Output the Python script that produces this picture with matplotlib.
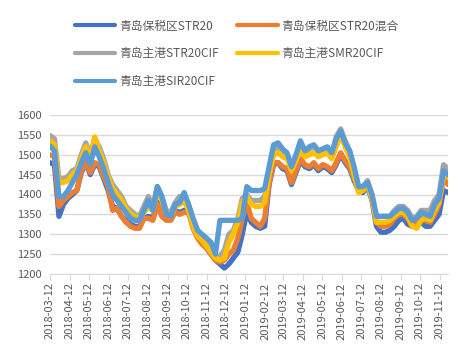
import pandas as pd
import matplotlib.pyplot as plt
import matplotlib.dates as mdates

plt.rcParams['font.family'] = ['Noto Sans CJK SC', 'DejaVu Sans']

# weekly observations starting 2018-03-12
dates = pd.date_range('2018-03-12', periods=90, freq='7D')

str20 = [1480, 1475, 1345, 1375, 1390, 1400, 1410, 1455, 1480, 1450,
         1475, 1470, 1440, 1410, 1370, 1365, 1345, 1335, 1325, 1320,
         1320, 1340, 1345, 1340, 1380, 1350, 1340, 1340, 1360, 1355,
         1360, 1355, 1320, 1295, 1280, 1265, 1250, 1235, 1225, 1215,
         1225, 1240, 1255, 1300, 1355, 1330, 1320, 1315, 1320, 1425,
         1475, 1480, 1465, 1460, 1425, 1455, 1485, 1470, 1465, 1475,
         1460, 1470, 1465, 1455, 1475, 1500, 1480, 1465, 1435, 1410,
         1405, 1420, 1385, 1320, 1305, 1305, 1310, 1320, 1335, 1340,
         1325, 1320, 1330, 1330, 1320, 1320, 1335, 1350, 1410, 1405]

str20_mix = [1500, 1495, 1370, 1385, 1395, 1405, 1410, 1460, 1480, 1455,
             1480, 1475, 1445, 1420, 1360, 1365, 1345, 1330, 1320, 1315,
             1315, 1340, 1340, 1335, 1375, 1345, 1335, 1335, 1355, 1350,
             1355, 1355, 1315, 1290, 1275, 1265, 1250, 1235, 1230, 1235,
             1250, 1260, 1290, 1340, 1380, 1340, 1330, 1320, 1340, 1430,
             1480, 1480, 1470, 1465, 1430, 1460, 1490, 1475, 1470, 1480,
             1465, 1475, 1470, 1460, 1480, 1505, 1485, 1470, 1440, 1415,
             1410, 1425, 1390, 1330, 1320, 1320, 1325, 1340, 1350, 1350,
             1340, 1320, 1325, 1340, 1335, 1330, 1350, 1375, 1440, 1425]

str20_cif = [1548, 1540, 1440, 1440, 1445, 1460, 1465, 1500, 1530, 1500,
             1540, 1520, 1490, 1450, 1425, 1410, 1395, 1370, 1360, 1350,
             1345, 1370, 1395, 1370, 1420, 1395, 1360, 1355, 1380, 1395,
             1395, 1370, 1335, 1310, 1295, 1280, 1270, 1245, 1245, 1260,
             1300, 1310, 1340, 1390, 1400, 1385, 1385, 1385, 1395, 1460,
             1510, 1520, 1510, 1500, 1465, 1495, 1530, 1505, 1515, 1520,
             1505, 1510, 1515, 1500, 1545, 1565, 1535, 1510, 1465, 1420,
             1420, 1435, 1400, 1345, 1345, 1345, 1345, 1360, 1370, 1370,
             1360, 1340, 1345, 1360, 1360, 1360, 1385, 1400, 1475, 1465]

smr20_cif = [1535, 1525, 1430, 1430, 1435, 1450, 1460, 1490, 1520, 1490,
             1545, 1510, 1480, 1445, 1415, 1400, 1385, 1365, 1350, 1345,
             1340, 1355, 1370, 1360, 1410, 1385, 1350, 1345, 1370, 1375,
             1385, 1360, 1320, 1295, 1285, 1270, 1255, 1240, 1235, 1240,
             1280, 1300, 1330, 1380, 1395, 1375, 1370, 1370, 1380, 1450,
             1500, 1505, 1495, 1490, 1460, 1485, 1515, 1495, 1500, 1505,
             1495, 1500, 1505, 1490, 1520, 1550, 1520, 1495, 1450, 1405,
             1410, 1425, 1390, 1330, 1330, 1330, 1335, 1345, 1355, 1355,
             1345, 1320, 1315, 1335, 1340, 1335, 1360, 1380, 1450, 1445]

sir20_cif = [1522, 1510, 1395, 1395, 1410, 1430, 1450, 1480, 1505, 1475,
             1520, 1495, 1465, 1430, 1400, 1385, 1370, 1355, 1340, 1335,
             1335, 1360, 1385, 1360, 1420, 1395, 1350, 1345, 1375, 1380,
             1405, 1375, 1340, 1310, 1300, 1290, 1280, 1250, 1335, 1335,
             1335, 1335, 1335, 1340, 1420, 1410, 1410, 1410, 1415, 1470,
             1525, 1530, 1515, 1505, 1470, 1500, 1535, 1510, 1520, 1525,
             1510, 1515, 1520, 1505, 1540, 1560, 1530, 1510, 1470, 1420,
             1420, 1430, 1400, 1345, 1345, 1345, 1345, 1355, 1365, 1365,
             1355, 1335, 1340, 1355, 1350, 1345, 1375, 1390, 1460, 1450]

labels = ['青岛保税区STR20', '青岛保税区STR20混合', '青岛主港STR20CIF',
          '青岛主港SMR20CIF', '青岛主港SIR20CIF']
series = [str20, str20_mix, str20_cif, smr20_cif, sir20_cif]
colors = ['#4472C4', '#ED7D31', '#A5A5A5', '#FFC000', '#5B9BD5']

tick_dates = pd.date_range('2018-03-12', '2019-11-12', freq=pd.DateOffset(months=1))

fig = plt.figure(figsize=(4.72, 3.54), dpi=100)
ax = fig.add_axes([50 / 472, 80 / 354, 398 / 472, 159 / 354])

lines = []
for vals, lab, col in zip(series, labels, colors):
    ln, = ax.plot(dates, vals, color=col, lw=3.8, label=lab,
                  solid_joinstyle='round', solid_capstyle='round')
    lines.append(ln)

ax.set_ylim(1200, 1600)
ax.set_yticks(range(1200, 1601, 50))
ax.set_xlim(dates[0], dates[-1])
ax.set_xticks(tick_dates)
ax.xaxis.set_major_formatter(mdates.DateFormatter('%Y-%m-%d'))
ax.grid(axis='y', color='#D9D9D9', lw=1)
ax.set_axisbelow(True)
for s in ['top', 'right', 'left']:
    ax.spines[s].set_visible(False)
ax.spines['bottom'].set_color('#D9D9D9')
ax.tick_params(axis='y', length=0, labelsize=8, labelcolor='#595959', pad=6)
ax.tick_params(axis='x', length=4, color='#D9D9D9', labelsize=8,
               labelcolor='#595959', rotation=90, pad=2)

# legend filled row by row like the original
order = [0, 2, 4, 1, 3]
leg = fig.legend([lines[i] for i in order], [labels[i] for i in order],
                 ncol=2, loc='upper left', bbox_to_anchor=(64 / 472, 1 - 9 / 354),
                 frameon=False, fontsize=8.5, handlelength=3.4, handletextpad=0.35,
                 columnspacing=1.6, labelspacing=1.25, labelcolor='#595959')
for h in leg.legend_handles:
    h.set_linewidth(3)

fig.savefig('out.png', dpi=100)
